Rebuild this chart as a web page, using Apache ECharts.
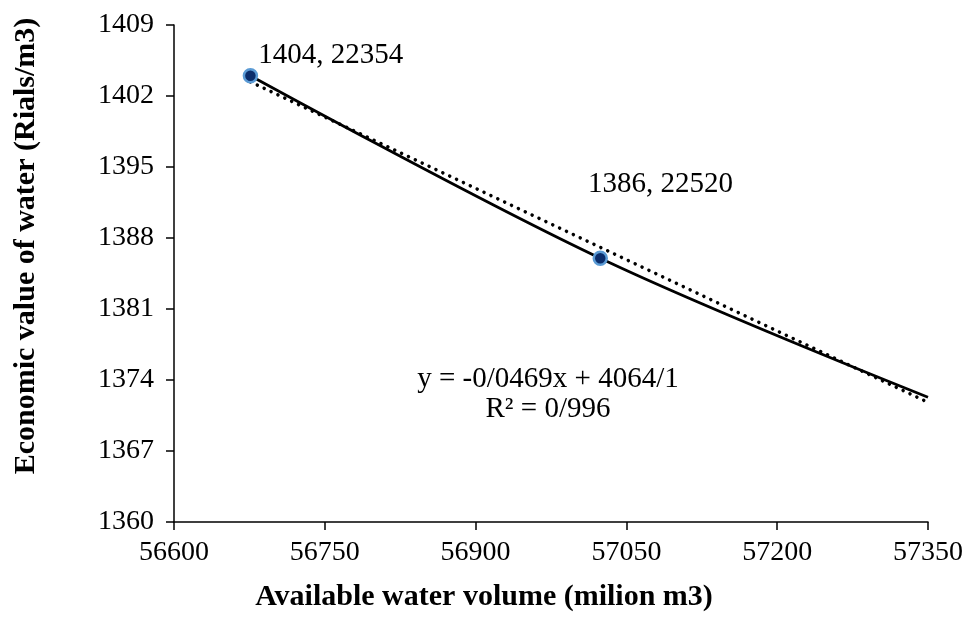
<!DOCTYPE html>
<html>
<head>
<meta charset="utf-8">
<script src="https://cdn.jsdelivr.net/npm/echarts@6/dist/echarts.min.js"></script>
<style>
  html, body { margin: 0; padding: 0; background: #fff; }
  #chart { width: 968px; height: 630px; }
</style>
</head>
<body>
<div id="chart"></div>
<script>
// observed points (x = available water, y = economic value)
const waterX = [56676, 57024, 57350]
const valueY = [1404, 1386, 1372.3]
const pointLabels = ['1404, 22354', '1386, 22520', '']
// linear trendline ends
const trendX = [56676, 57350]
const trendY = [1403.4, 1371.8]
const xTicks = [56600, 57350, 150]
const yTicks = [1360, 1409, 7]

const font = 'Liberation Serif, Times New Roman, serif'
const labelOffsets = [[-5, -20], [-25, -74], [0, 0]]

const chart = echarts.init(document.getElementById('chart'))

const lineData = waterX.map((x, i) => ({
  value: [x, valueY[i]],
  symbolSize: i < 2 ? 13 : 0,
  label: {
    show: pointLabels[i] !== '',
    formatter: pointLabels[i],
    offset: labelOffsets[i]
  }
}))

chart.setOption({
  animation: false,
  grid: { left: 174, right: 40, top: 25, bottom: 108 },
  xAxis: {
    type: 'value',
    min: xTicks[0],
    max: xTicks[1],
    interval: xTicks[2],
    axisLine: { lineStyle: { color: '#000', width: 1.5 } },
    axisTick: { length: 8, lineStyle: { color: '#000', width: 1.5 } },
    axisLabel: { fontFamily: font, fontSize: 28, color: '#000', margin: 17, formatter: v => String(v) },
    splitLine: { show: false }
  },
  yAxis: {
    type: 'value',
    min: yTicks[0],
    max: yTicks[1],
    interval: yTicks[2],
    axisLine: { show: true, lineStyle: { color: '#000', width: 1.5 } },
    axisTick: { show: true, length: 8, lineStyle: { color: '#000', width: 1.5 } },
    axisLabel: { fontFamily: font, fontSize: 28, color: '#000', margin: 20, formatter: v => String(v) },
    splitLine: { show: false }
  },
  series: [
    {
      type: 'line',
      data: trendX.map((x, i) => [x, trendY[i]]),
      showSymbol: false,
      lineStyle: { color: '#000', width: 3.5, type: [0.1, 7.5], cap: 'round' },
      z: 2
    },
    {
      type: 'line',
      data: lineData,
      smooth: 0.35,
      symbol: 'circle',
      itemStyle: { color: '#0b2d6b', borderColor: '#5b9bd5', borderWidth: 2.5 },
      lineStyle: { color: '#000', width: 2.8 },
      label: {
        position: 'right',
        fontFamily: font,
        fontSize: 29,
        color: '#000'
      },
      z: 3
    }
  ],
  graphic: [
    {
      // trendline equation
      type: 'text',
      x: 548,
      y: 364,
      style: {
        text: 'y = -0/0469x + 4064/1\nR² = 0/996',
        font: '29px ' + font,
        fill: '#000',
        align: 'center',
        lineHeight: 30
      }
    },
    {
      // axis titles, centred the way the spreadsheet placed them
      type: 'text',
      x: 484,
      y: 597,
      style: {
        text: 'Available water volume (milion m3)',
        font: 'bold 30px ' + font,
        fill: '#000',
        align: 'center',
        verticalAlign: 'middle'
      }
    },
    {
      type: 'text',
      x: 26,
      y: 246,
      rotation: Math.PI / 2,
      style: {
        text: 'Economic value of water (Rials/m3)',
        font: 'bold 30px ' + font,
        fill: '#000',
        align: 'center',
        verticalAlign: 'middle'
      }
    }
  ]
})
</script>
</body>
</html>
